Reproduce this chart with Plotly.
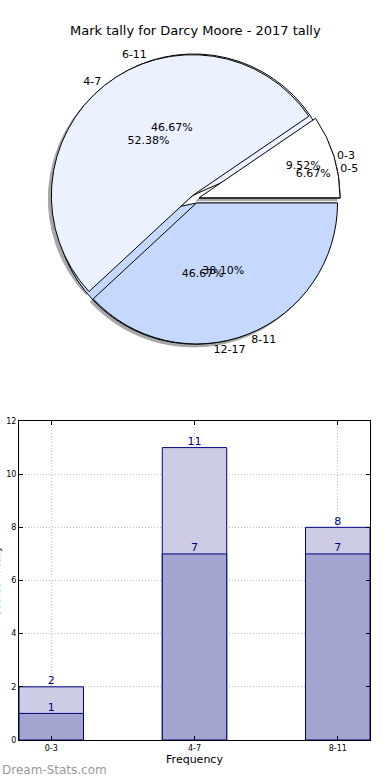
import plotly.graph_objects as go

# ---- data ----
title = "Mark tally for Darcy Moore - 2017 tally"
pie1_labels = ["0-3", "4-7", "8-11"]
pie1_values = [2, 11, 8]
pie2_labels = ["0-5", "6-11", "12-17"]
pie2_values = [1, 7, 7]
pie_colors = ["#FFFFFF", "#EBF1FF", "#C5D9FF"]

bar_cats = ["0-3", "4-7", "8-11"]
bar_total = [2, 11, 8]
bar_part = [1, 7, 7]
y_title = "Scores in tally"
x_title = "Frequency"
watermark = "Dream-Stats.com"

FONT = "DejaVu Sans"
W, H = 390, 780
ML, MR, MT, MB = 19, 20, 0, 40
pw = W - ML - MR
ph = H - MT - MB


def px_x(x):
    return (x - ML) / pw


def px_y(y):
    return (H - MB - y) / ph


# pie domain (pixels)
PULL = 0.03
pcx, pcy, pr = 195, 199, 141
half = pr * (1 + PULL)
pie_dom = dict(x=[px_x(pcx - half), px_x(pcx + half)], y=[px_y(pcy + half), px_y(pcy - half)])
sh_dom = dict(x=[px_x(pcx - half - 3), px_x(pcx + half - 3)], y=[px_y(pcy + half + 3), px_y(pcy - half + 3)])


def start_rot(vals):
    # plotly: with counterclockwise direction the first slice ends at `rotation`;
    # shift so the first slice starts at 3 o'clock
    return 90 - 360.0 * vals[0] / sum(vals)


fig = go.Figure()

common = dict(sort=False, direction="counterclockwise",
              hoverinfo="skip", showlegend=False)

# shadow
fig.add_trace(go.Pie(labels=pie1_labels, values=pie1_values, domain=sh_dom,
                     rotation=start_rot(pie1_values),
                     marker=dict(colors=["#8a8a8a"] * 3, line=dict(color="#8a8a8a", width=1)),
                     textinfo="none", pull=PULL, opacity=0.75, **common))
# series 2 (underneath)
fig.add_trace(go.Pie(labels=pie2_labels, values=pie2_values, domain=pie_dom,
                     rotation=start_rot(pie2_values),
                     marker=dict(colors=pie_colors, line=dict(color="#000000", width=1)),
                     textinfo="none", pull=PULL, **common))
# series 1 (on top)
fig.add_trace(go.Pie(labels=pie1_labels, values=pie1_values, domain=pie_dom,
                     rotation=start_rot(pie1_values),
                     marker=dict(colors=pie_colors, line=dict(color="#000000", width=1)),
                     textinfo="none", pull=PULL, **common))

# text layers
for labs, vals in [(pie2_labels, pie2_values), (pie1_labels, pie1_values)]:
    fig.add_trace(go.Pie(labels=labs, values=vals, domain=pie_dom,
                         rotation=start_rot(vals),
                         marker=dict(colors=["rgba(0,0,0,0)"] * 3, line=dict(width=0)),
                         texttemplate="%{percent:.2%}", textposition="inside",
                         insidetextorientation="horizontal",
                         insidetextfont=dict(family=FONT, size=11, color="#000000"),
                         pull=PULL, **common))
    fig.add_trace(go.Pie(labels=labs, values=vals, domain=pie_dom,
                         rotation=start_rot(vals),
                         marker=dict(colors=["rgba(0,0,0,0)"] * 3, line=dict(width=0)),
                         texttemplate="%{label}", textposition="outside",
                         outsidetextfont=dict(family=FONT, size=11, color="#000000"),
                         pull=PULL, **common))

# ---- bars ----
fig.add_trace(go.Bar(x=bar_cats, y=bar_total, width=0.45,
                     marker=dict(color="#CCCCE5", line=dict(color="#000080", width=1)),
                     showlegend=False, hoverinfo="skip"))
fig.add_trace(go.Bar(x=bar_cats, y=bar_part, width=0.45,
                     marker=dict(color="#A3A5D1", line=dict(color="#000080", width=1)),
                     showlegend=False, hoverinfo="skip"))
fig.add_trace(go.Scatter(x=bar_cats, y=bar_total, mode="text", text=[str(v) for v in bar_total],
                         textposition="top center", cliponaxis=False,
                         textfont=dict(family=FONT, size=11, color="#000080"),
                         showlegend=False, hoverinfo="skip"))
fig.add_trace(go.Scatter(x=bar_cats, y=bar_part, mode="text", text=[str(v) for v in bar_part],
                         textposition="top center", cliponaxis=False,
                         textfont=dict(family=FONT, size=11, color="#000080"),
                         showlegend=False, hoverinfo="skip"))

bar_top = 421
grid = dict(showgrid=True, gridcolor="#BDBDBD", griddash="1px,2px", gridwidth=1,
            showline=True, linecolor="#000000", linewidth=1, mirror="ticks",
            ticks="inside", ticklen=4, tickcolor="#000000",
            tickfont=dict(family=FONT, size=8, color="#000000"),
            zeroline=False, fixedrange=True, automargin=False)
fig.update_layout(
    width=W, height=H,
    margin=dict(l=ML, r=MR, t=MT, b=MB, autoexpand=False),
    paper_bgcolor="white", plot_bgcolor="white",
    barmode="overlay",
    font=dict(family=FONT, size=11, color="#000000"),
    xaxis=dict(domain=[0, 1], range=[-0.225, 2.225], type="category",
               title=dict(text=x_title, font=dict(family=FONT, size=11), standoff=2),
               **grid),
    yaxis=dict(domain=[0, px_y(bar_top)], range=[0, 12], dtick=2, **grid),
    annotations=[
        dict(text=title, x=px_x(195), xref="paper", y=px_y(30), yref="paper",
             xanchor="center", yanchor="middle", showarrow=False,
             font=dict(family=FONT, size=13, color="#000000")),
        dict(text=watermark, x=px_x(0), xref="paper", y=px_y(770), yref="paper",
             xanchor="left", yanchor="middle", showarrow=False,
             font=dict(family=FONT, size=12, color="#999999")),
        dict(text=y_title, x=px_x(-4), xref="paper", y=px_y(581), yref="paper",
             xanchor="center", yanchor="middle", showarrow=False, textangle=-90,
             font=dict(family=FONT, size=10, color="#000000")),
    ],
)

fig.write_html("out.html", config={"displayModeBar": False},
               post_script="document.body.style.margin='0';document.body.style.padding='0';")
